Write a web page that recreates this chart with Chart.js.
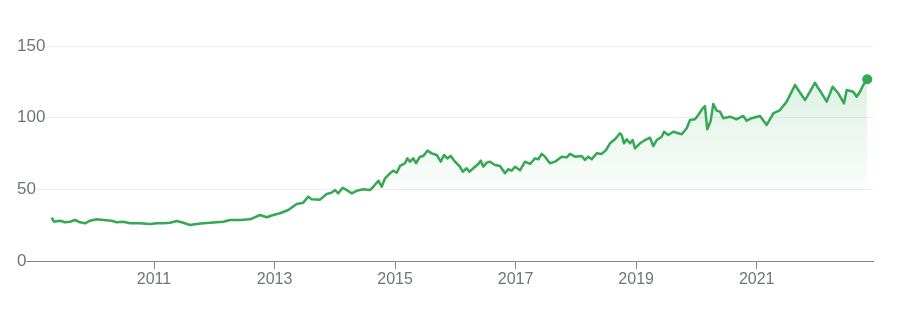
<!DOCTYPE html>
<html>
<head>
<meta charset="utf-8">
<script src="https://cdn.jsdelivr.net/npm/chart.js@4.4.0/dist/chart.umd.min.js"></script>
<style>
html,body{margin:0;padding:0;background:#fff}
#wrap{width:903px;height:311px;position:relative}
</style>
</head>
<body>
<div id="wrap"><canvas id="c"></canvas></div>
<script>
// Decimal-year time points and prices
const years = [
 2009.303,2009.341,2009.440,2009.523,2009.606,2009.689,2009.772,2009.855,2009.938,2010.049,
 2010.159,2010.298,2010.381,2010.491,2010.602,2010.768,2010.934,2011.045,2011.154,2011.265,
 2011.377,2011.486,2011.597,2011.708,2011.818,2011.929,2012.040,2012.150,2012.261,2012.427,
 2012.593,2012.759,2012.870,2012.979,2013.091,2013.228,2013.368,2013.477,2013.560,2013.617,
 2013.754,2013.865,2013.948,2014.003,2014.058,2014.131,2014.197,2014.280,2014.363,2014.473,
 2014.584,2014.639,2014.722,2014.778,2014.833,2014.916,2014.970,2015.027,2015.082,2015.165,
 2015.203,2015.248,2015.302,2015.347,2015.413,2015.468,2015.535,2015.608,2015.691,2015.757,
 2015.812,2015.866,2015.923,2015.994,2016.077,2016.122,2016.188,2016.232,2016.298,2016.381,
 2016.421,2016.464,2016.520,2016.575,2016.658,2016.741,2016.824,2016.879,2016.935,2016.990,
 2017.073,2017.156,2017.239,2017.322,2017.376,2017.433,2017.488,2017.570,2017.653,2017.765,
 2017.848,2017.902,2017.985,2018.096,2018.151,2018.206,2018.262,2018.345,2018.428,2018.500,
 2018.566,2018.649,2018.732,2018.760,2018.798,2018.843,2018.898,2018.943,2018.981,2019.064,
 2019.147,2019.230,2019.284,2019.341,2019.424,2019.462,2019.533,2019.616,2019.699,2019.756,
 2019.839,2019.893,2019.976,2020.031,2020.104,2020.142,2020.180,2020.237,2020.280,2020.336,
 2020.391,2020.446,2020.557,2020.668,2020.778,2020.834,2020.917,2021.055,2021.166,2021.276,
 2021.387,2021.498,2021.636,2021.690,2021.802,2021.884,2021.967,2022.022,2022.079,2022.162,
 2022.261,2022.354,2022.449,2022.493,2022.603,2022.659,2022.714,2022.769,2022.835
];
const prices = [
 30.2,27.4,28.1,27.0,27.4,28.6,27.0,26.3,28.1,29.1,
 28.6,28.1,27.0,27.4,26.3,26.3,25.8,26.3,26.3,26.7,
 27.9,26.7,25.1,25.8,26.3,26.7,27.0,27.4,28.6,28.6,
 29.1,32.1,30.5,32.1,33.3,35.6,39.8,40.7,44.9,43.0,
 42.8,46.7,47.7,49.5,47.2,51.1,49.5,47.2,49.0,50.0,
 49.5,51.8,56.0,51.8,57.7,61.2,63.0,61.6,66.3,68.2,
 71.6,69.3,71.6,68.2,72.8,73.3,77.0,75.1,74.0,69.3,
 74.0,71.6,73.3,69.3,65.8,62.3,64.7,62.3,64.7,67.7,
 70.0,65.8,68.6,69.3,67.0,66.3,61.2,64.0,63.0,65.8,
 63.3,69.3,67.7,71.6,71.0,74.7,72.8,68.2,69.3,72.8,
 72.3,74.7,72.8,73.3,70.5,72.8,71.0,75.1,74.7,77.4,
 82.1,84.9,89.1,87.9,82.1,84.9,82.1,84.4,78.6,82.1,
 84.4,86.0,80.2,84.4,86.7,90.2,87.9,90.2,89.1,88.4,
 92.6,98.4,98.9,101.9,106.5,108.1,91.9,97.9,109.5,104.9,
 104.2,99.6,100.7,98.9,101.2,97.9,99.6,101.2,94.9,103.0,
 105.3,111.2,122.8,119.3,112.3,118.1,124.4,120.5,117.0,111.2,
 121.6,117.0,110.0,119.3,118.1,114.6,118.1,122.8,126.8
];
const yTickValues = [0, 50, 100, 150];
const xTickYears = [2011, 2013, 2015, 2017, 2019, 2021];

const LINE = '#34a853';
Chart.defaults.font.family = 'Arial, "Liberation Sans", sans-serif';

new Chart(document.getElementById('c'), {
  type: 'line',
  data: {
    datasets: [{
      data: years.map((x, i) => ({x: x, y: prices[i]})),
      borderColor: LINE,
      borderWidth: 2.5,
      borderJoinStyle: 'round',
      tension: 0,
      pointRadius: (ctx) => ctx.dataIndex === prices.length - 1 ? 5 : 0,
      pointHoverRadius: (ctx) => ctx.dataIndex === prices.length - 1 ? 5 : 0,
      pointBackgroundColor: LINE,
      pointBorderWidth: 0,
      clip: false,
      fill: {target: {value: 50}, below: 'rgba(0,0,0,0)'},
      backgroundColor: (ctx) => {
        const chart = ctx.chart;
        if (!chart.chartArea) return 'rgba(0,0,0,0)';
        const y = chart.scales.y;
        const g = chart.ctx.createLinearGradient(0, y.getPixelForValue(130), 0, y.getPixelForValue(50));
        g.addColorStop(0, 'rgba(52,168,83,0.17)');
        g.addColorStop(1, 'rgba(52,168,83,0.02)');
        return g;
      }
    }]
  },
  options: {
    responsive: true,
    maintainAspectRatio: false,
    animation: false,
    layout: {padding: {left: 17, right: 30, top: 46, bottom: 20.8}},
    plugins: {legend: {display: false}, tooltip: {enabled: false}},
    scales: {
      x: {
        type: 'linear',
        min: 2008.876,
        max: 2022.93,
        afterBuildTicks: (s) => { s.ticks = xTickYears.map(v => ({value: v})); },
        grid: {display: true, drawOnChartArea: false, drawTicks: true, tickLength: 8, color: '#80868b'},
        border: {display: true, color: '#80868b', width: 1},
        ticks: {
          autoSkip: false, maxRotation: 0, padding: 1,
          color: '#70757a', font: {size: 16},
          callback: (v) => String(v)
        }
      },
      y: {
        min: 0,
        max: 150,
        afterBuildTicks: (s) => { s.ticks = yTickValues.map(v => ({value: v})); },
        afterFit: (s) => { s.width = 9; },
        grid: {color: '#ececec', drawTicks: false},
        border: {display: false},
        ticks: {
          mirror: true, crossAlign: 'near', padding: -9,
          color: '#70757a', font: {size: 17},
          showLabelBackdrop: true, backdropColor: '#ffffff', backdropPadding: {x: 0, y: 0},
          callback: (v) => String(v)
        }
      }
    }
  }
});
</script>
</body>
</html>
